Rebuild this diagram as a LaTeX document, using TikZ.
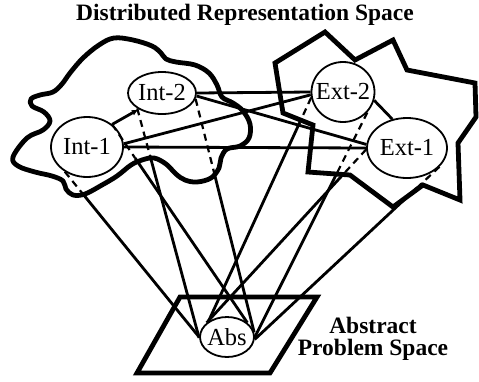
\documentclass[tikz,border=0pt]{standalone}
\usepackage{fontspec}
\setmainfont{Liberation Serif}
\usetikzlibrary{shapes.geometric,arrows.meta,calc}
\begin{document}
\begin{tikzpicture}[x=1pt,y=-1pt,
  region/.style={line width=4.8pt, line join=miter},
  blob/.style={line width=4.8pt, line join=round},
  conn/.style={line width=2.8pt},
  hidden/.style={line width=2.2pt, dash pattern=on 7pt off 5pt},
  ell/.style={ellipse, draw, line width=1.8pt, fill=white, inner xsep=-10pt, inner ysep=0pt,
    font=\fontsize{24.5}{26}\selectfont},
  lbl/.style={font=\bfseries\fontsize{23.5}{22.5}\selectfont, align=center}]
\useasboundingbox (0,0) rectangle (479,381);

% title
\node[lbl, anchor=base] (title) at (245,20) {Distributed Representation Space};

% internal region (blob)
\draw[blob] plot[smooth cycle, tension=0.6] coordinates {
 (13,157) (27,138) (43,130) (50,121) (44,112) (32,106) (31,99) (40,95) (53,92)
 (62,84) (70,73) (83,58) (99,45) (114,38) (133,40) (152,46) (161,53) (166,59)
 (176,62) (195,65) (209,73) (217,85) (222,97) (233,103) (243,111) (250,124)
 (249,138) (240,146) (227,149) (221,158) (219,168) (211,178) (197,182) (185,180)
 (176,174) (166,164) (154,158) (142,160) (131,165) (117,176) (102,185) (85,194)
 (73,195) (66,189) (63,181) (52,176) (35,172) (18,166)};

% external region (polygon)
\draw[region] (275,63) -- (325,32) -- (355,60) -- (393,40) -- (407,70)
 -- (475,83) -- (476,117) -- (458,143) -- (460,200) -- (423,185) -- (393,207)
 -- (350,175) -- (308,172) -- (313,125) -- (283,113) -- cycle;

% abstract problem space
\draw[region] (180,297) -- (317,297) -- (270,373) -- (137,373) -- cycle;
\node[lbl] (aps) at (373,339) {Abstract\\Problem Space};

% nodes
\node[ell, minimum width=72pt, minimum height=60pt] (i1) at (87,147) {Int-1};
\node[ell, minimum width=68pt, minimum height=42pt] (i2) at (162,93) {Int-2};
\node[ell, minimum width=63pt, minimum height=60pt] (e2) at (343,92) {Ext-2};
\node[ell, minimum width=80pt, minimum height=60pt] (e1) at (407,148) {Ext-1};
\node[ell, minimum width=54pt, minimum height=40pt] (abs) at (227,337) {Abs};

% links between representation nodes
\draw[conn] (i2.east) -- (e2.west);
\draw[conn] (i2.-5) -- (e1.175);
\draw[conn] (i1.east) -- (e1.west);
\draw[conn] (i1.5) -- (e2.185);
\draw[conn, -{Latex[length=7pt,width=6pt]}] (i1.42) -- (i2.215);
\draw[conn] (e2.-15) -- (e1.117);

% projections onto Abs (hidden part dashed)
\coordinate (k1) at ($(i1.228)!0.13!(abs.180)$);
\draw[hidden] (i1.228) -- (k1); \draw[conn] (k1) -- (abs.180);
\coordinate (k2) at ($(i1.42)!0.17!(abs.35)$);
\draw[hidden] (i1.42) -- (k2); \draw[conn] (k2) -- (abs.35);
\coordinate (k3) at ($(i2.212)!0.22!(abs.182)$);
\draw[hidden] (i2.212) -- (k3); \draw[conn] (k3) -- (abs.182);
\coordinate (k4) at ($(i2.-10)!0.32!(abs.10)$);
\draw[hidden] (i2.-10) -- (k4); \draw[conn] (k4) -- (abs.10);
\coordinate (k5) at ($(e2.190)!0.11!(abs.140)$);
\draw[hidden] (e2.190) -- (k5); \draw[conn] (k5) -- (abs.140);
\coordinate (k6) at ($(e2.-40)!0.275!(abs.0)$);
\draw[hidden] (e2.-40) -- (k6); \draw[conn] (k6) -- (abs.0);
\coordinate (k7) at ($(e1.182)!0.15!(abs.145)$);
\draw[hidden] (e1.182) -- (k7); \draw[conn] (k7) -- (abs.145);
\coordinate (k8) at ($(e1.-30)!0.12!(abs.-5)$);
\draw[hidden] (e1.-30) -- (k8); \draw[conn] (k8) -- (abs.-5);
\end{tikzpicture}
\end{document}
